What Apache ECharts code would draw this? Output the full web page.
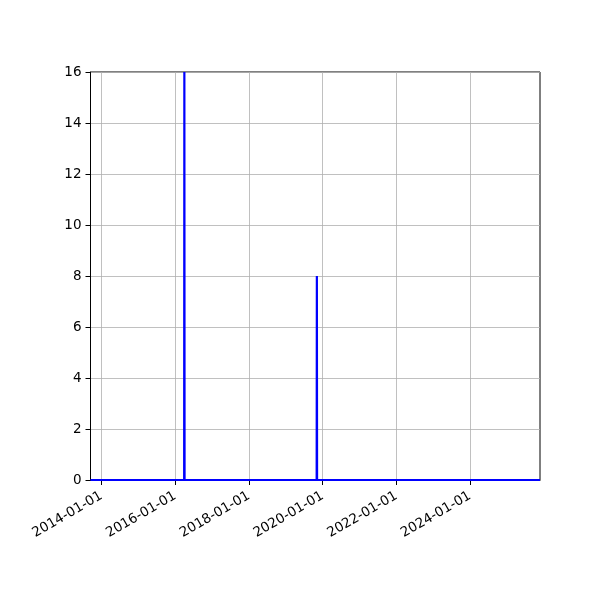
<!DOCTYPE html>
<html><head><meta charset="utf-8">
<script src="https://cdn.jsdelivr.net/npm/echarts@6/dist/echarts.min.js"></script>
<style>html,body{margin:0;padding:0;background:#fff}#c{width:600px;height:600px}</style>
</head><body><div id="c"></div>
<script>
var dates = ['2013-09-14','2016-03-30','2016-04-01','2016-04-03','2019-11-03','2019-11-05','2019-11-07','2025-11-24'];
var values = [0,0,16,0,0,8,0,0];
var tickDates = ['2014-01-01','2016-01-01','2018-01-01','2020-01-01','2022-01-01','2024-01-01'];
var yTicks = [0,2,4,6,8,10,12,14,16];
var xRange = ['2013-09-14','2025-11-24'];

function ms(s){return Date.parse(s+'T00:00:00Z');}
function fmt(v){var d=new Date(v);var m=d.getUTCMonth()+1,dd=d.getUTCDate();return d.getUTCFullYear()+'-'+(m<10?'0':'')+m+'-'+(dd<10?'0':'')+dd;}
var data = dates.map(function(d,i){return [ms(d),values[i]];});
var tickMs = tickDates.map(ms);
var font = 'DejaVu Sans';
var chart = echarts.init(document.getElementById('c'));
chart.setOption({
  animation:false,
  grid:{left:90.5,right:60,top:72,bottom:120,show:true,borderColor:'#000',borderWidth:1,backgroundColor:'transparent'},
  xAxis:{type:'value',min:ms(xRange[0]),max:ms(xRange[1]),
    axisLine:{show:true,lineStyle:{color:'#000'}},
    axisTick:{show:true,customValues:tickMs,length:5,lineStyle:{color:'#000'}},
    axisLabel:{customValues:tickMs,rotate:30,formatter:function(v){return fmt(v);},color:'#000',fontFamily:font,fontSize:13.5,margin:15},
    splitLine:{show:true,lineStyle:{color:'#b0b0b0',width:0.8}}
  },
  yAxis:{type:'value',min:yTicks[0],max:yTicks[yTicks.length-1],interval:2,
    axisLine:{show:true,lineStyle:{color:'#000'}},
    axisTick:{show:true,length:5,lineStyle:{color:'#000'}},
    axisLabel:{color:'#000',fontFamily:font,fontSize:13.5,margin:9},
    splitLine:{show:true,lineStyle:{color:'#b0b0b0',width:0.8}}
  },
  series:[{type:'line',data:data,showSymbol:false,symbol:'none',lineStyle:{color:'#0000ff',width:2.2},itemStyle:{color:'#0000ff'},clip:true}]
});
</script></body></html>
